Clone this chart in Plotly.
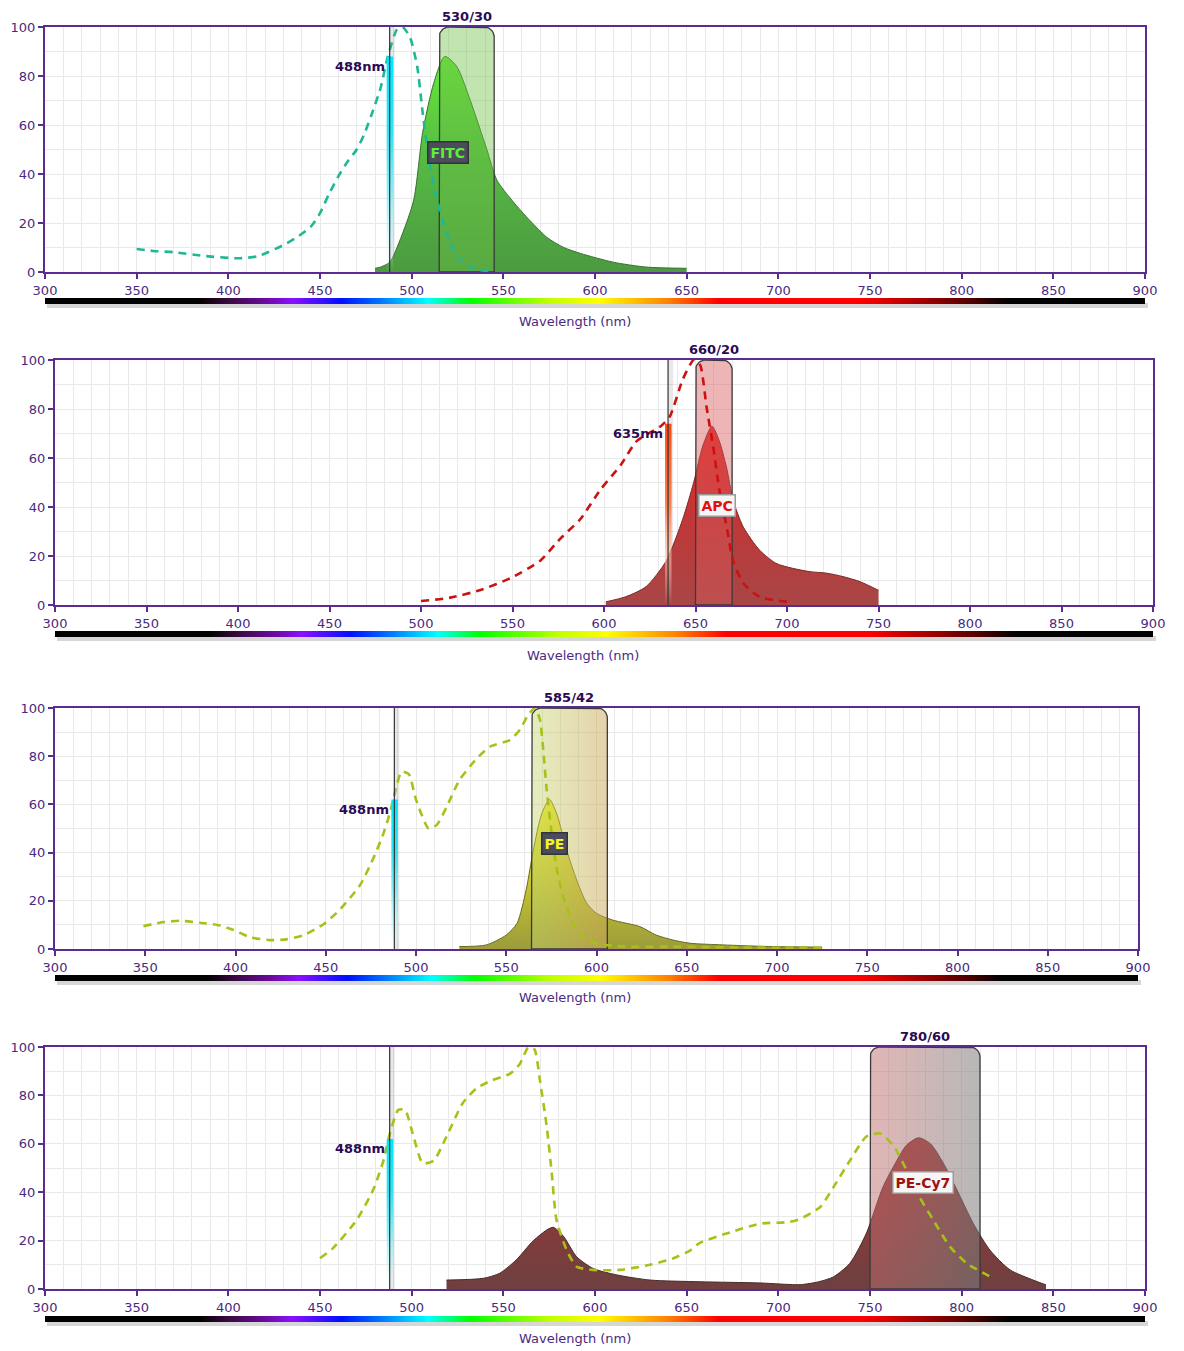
import numpy as np
import plotly.graph_objects as go

W, H = 1184, 1351

# ---------------- data ----------------
fitc_ex_nm = [350, 359, 370, 386, 405, 416, 430, 437, 445, 450, 455, 460, 465, 470, 474, 478, 483, 487, 492, 495, 499, 503, 506, 510, 514, 519, 525, 532, 543]
fitc_ex_val = [9.4, 8.6, 8.1, 6.6, 5.6, 6.4, 11, 14, 18.5, 24, 32, 39, 45, 50, 56, 64, 75, 88, 99, 100, 96, 84, 65, 43, 29, 16, 6, 2, 0]
fitc_em_nm = [480, 483, 488, 492, 501, 506, 512, 518, 524.5, 532, 541, 546.5, 555, 564.5, 574, 583, 592, 610, 628, 650]
fitc_em_val = [1.5, 2, 4, 10, 29, 57, 77, 88, 84, 70, 50, 37.5, 29, 21, 14, 10, 7.6, 4, 2, 1.5]

apc_ex_nm = [500, 516, 532, 549, 565, 576, 587, 598, 609, 618, 631, 636, 643, 649, 652.5, 656, 660, 663, 667, 670.5, 676, 685, 700]
apc_ex_val = [1.6, 3, 6, 11, 18, 27, 35, 47, 57, 67, 73, 77, 92, 100, 98, 81, 63, 47, 32, 18, 9, 3.3, 1.3]
apc_em_nm = [601, 612, 623, 634, 643, 649, 654, 659, 663, 667, 670.5, 676, 685, 694, 703, 712.6, 721.7, 730.6, 740, 750]
apc_em_val = [1.3, 3.4, 7.5, 18, 35, 50, 65, 73, 67, 56, 43, 32, 22.4, 17, 15, 13.6, 13, 11.6, 9.5, 6]

pe_ex_nm = [349, 358, 369, 380, 390, 399, 408, 419, 428, 438, 449, 458, 469, 476, 482, 486, 489, 492, 496, 500, 507, 511.5, 517, 524, 533.6, 541, 552, 557.6, 562, 566, 568.7, 570.5, 572.4, 575, 578, 581.6, 587, 592.7, 600, 615, 642, 680, 725]
pe_ex_val = [9.5, 10.9, 11.7, 10.9, 10, 7.9, 4.9, 3.7, 4, 5.8, 10.4, 16.5, 26.5, 37, 48, 57.7, 67, 73.6, 72.6, 62, 50, 51.5, 59, 70, 79, 84, 86.7, 91, 97, 100, 95, 82.6, 66, 49, 33, 21.7, 10.7, 5, 2.3, 1, 1, 0.6, 0.5]
pe_em_nm = [524, 539, 550, 556, 561, 565, 569.6, 574, 578, 583.5, 589, 594.6, 600, 609, 624, 633, 642.5, 651.8, 670, 698, 725]
pe_em_val = [1, 1.7, 5.8, 10.7, 24.5, 41, 56, 62, 56, 41, 28.6, 19, 14.8, 12, 9.3, 5.8, 3.7, 2.4, 1.7, 1, 0.8]

pecy7_ex_nm = [450, 457, 470, 479, 484.6, 488, 492.7, 496.4, 501, 506, 512, 519, 528, 535.5, 543, 553.7, 559, 563.7, 567, 570, 573.7, 576.4, 579, 584.6, 590, 599, 613.7, 630, 642.8, 652, 657, 674, 690, 706, 712, 723, 730, 739, 748, 755.5, 763, 770, 777, 784.5, 793.6, 802.8, 815.5]
pecy7_ex_val = [12.7, 16.8, 28.5, 41, 53, 64, 74, 74, 63, 52, 53, 63, 77, 83, 86, 89, 93, 100, 99, 86, 67, 48, 28.5, 16, 9.2, 7.9, 7.9, 10, 12.7, 16, 19, 23.5, 27, 27.7, 29, 34, 42, 53, 63, 64.3, 59, 49, 38, 28.5, 17.5, 10.6, 5.1]
pecy7_em_nm = [519, 539, 548, 557, 566.4, 573.7, 577.3, 583, 590, 599, 612, 630, 657, 690, 712, 722, 730, 739, 748, 757, 764.6, 770, 776.5, 783, 790, 797.4, 806.4, 815.5, 826.4, 839, 846]
pecy7_em_val = [3.7, 4.4, 6.5, 12, 20, 24.4, 25.5, 21.6, 13.3, 8.5, 5.8, 3.7, 3, 2.5, 1.8, 3, 5, 10.6, 23, 42, 53, 59.5, 62.5, 60, 52, 41, 27, 16, 7.9, 3.7, 1.7]

dye_names = ["FITC", "APC", "PE", "PE-Cy7"]
filter_center = [530, 660, 585, 780]
filter_width = [30, 20, 42, 60]
laser_nm = [488, 635, 488, 488]
laser_height = [88, 74, 62, 62]

x_ticks_major = list(range(300, 901, 50))
y_ticks_major = list(range(0, 101, 20))

# ---------------- styles / layout geometry ----------------
PURPLE = "#5b2c8f"
TXT = "#4a2a80"
LBL = "#2a0a55"
FONT = "DejaVu Sans, Verdana, sans-serif"
OFF = 8  # page body margin compensation (px)

# panel pixel boxes in the screenshot: (x0, x1, ytop, ybottom)
panels = [(45, 1145, 27, 272), (55, 1153, 360, 605), (55, 1138, 708, 949), (45, 1145, 1047, 1289)]
bars = [(298, 304), (631, 637), (975, 981), (1316, 1322)]
titles = [(575, 322), (583, 655), (575, 998), (575, 1338)]

CYAN_BAR = [[0, "rgba(220,250,252,0.0)"], [0.15, "rgba(190,245,250,0.5)"], [0.4, "rgba(120,235,245,0.9)"],
            [0.65, "#2fe3f3"], [1, "#00e6ff"]]
RED_BAR = [[0, "rgba(255,255,255,0.0)"], [0.2, "rgba(255,200,180,0.5)"], [0.55, "#ff8050"], [1, "#ff4a10"]]

styles = [
    dict(ex=(fitc_ex_nm, fitc_ex_val), em=(fitc_em_nm, fitc_em_val), excol="#1fb894",
         emgrad=[[0, "#4c9a40"], [0.5, "#55b943"], [1, "#66e83a"]], emline="#3d6e35",
         box=dict(fillcolor="rgba(110,190,70,0.42)"), laser=CYAN_BAR,
         lab=dict(pos=(520, 48.6), bg="#4d4d5a", border="#33333d", col="#5cf03a")),
    dict(ex=(apc_ex_nm, apc_ex_val), em=(apc_em_nm, apc_em_val), excol="#cc1111",
         emgrad=[[0, "#a84646"], [0.5, "#c23636"], [1, "#ea2828"]], emline="#7a2a2a",
         box=dict(fillcolor="rgba(215,90,90,0.45)"), laser=RED_BAR,
         lab=dict(pos=(661.6, 40.8), bg="#f6f6f6", border="#9a9a9a", col="#e01010")),
    dict(ex=(pe_ex_nm, pe_ex_val), em=(pe_em_nm, pe_em_val), excol="#a8c018",
         emgrad=[[0, "#9c9c3c"], [0.5, "#c9c930"], [1, "#f2f226"]], emline="#6a6a20",
         box=dict(grad=[[0, "rgba(195,215,110,0.45)"], [1, "rgba(205,165,85,0.5)"]]), laser=CYAN_BAR,
         lab=dict(pos=(577, 43.6), bg="#4d4d5a", border="#33333d", col="#f4f422")),
    dict(ex=(pecy7_ex_nm, pecy7_ex_val), em=(pecy7_em_nm, pecy7_em_val), excol="#a8c018",
         emgrad=[[0, "#6e4040"], [0.5, "#8a3a3a"], [1, "#a83030"]], emline="#4a2a2a",
         box=dict(grad=[[0, "rgba(195,110,110,0.5)"], [1, "rgba(125,125,125,0.55)"]]), laser=CYAN_BAR,
         lab=dict(pos=(779, 44), bg="#f6f6f6", border="#9a9a9a", col="#a01010")),
]

# spectrum colour stops (wavelength, colour)
spec_stops = [(300, "#000000"), (384, "#000000"), (400, "#3a0a40"), (420, "#6a0aa0"), (435, "#8a10ff"),
              (462, "#0010ff"), (485, "#0080ff"), (509, "#00ffff"), (532, "#00ff00"), (575, "#c0ff00"),
              (602, "#ffff00"), (640, "#ff8000"), (667, "#ff0000"), (745, "#ff0000"), (785, "#900000"),
              (805, "#500000"), (825, "#000000"), (900, "#000000")]
spec_scale = [[(w - 300) / 600, c] for w, c in spec_stops]
spec_wl = np.arange(300, 901, 1)


def px(v):
    return (v - OFF) / W


def py(v):
    return 1 - (v - OFF) / H


def xd(a, b):
    return [px(a), px(b)]


def yd(top, bottom):
    return [py(bottom), py(top)]


def rounded_box(lo, hi, top, rx, ry, n=10):
    xs, ys = [lo, lo], [0, top - ry]
    for t in np.linspace(np.pi, np.pi / 2, n):
        xs.append(lo + rx + rx * np.cos(t)); ys.append(top - ry + ry * np.sin(t))
    for t in np.linspace(np.pi / 2, 0, n):
        xs.append(hi - rx + rx * np.cos(t)); ys.append(top - ry + ry * np.sin(t))
    xs += [hi, lo]; ys += [0, 0]
    return xs, ys


fig = go.Figure()
layout = dict(width=W, height=H, margin=dict(l=0, r=0, t=0, b=0, pad=0, autoexpand=False), autosize=False,
              paper_bgcolor="white", plot_bgcolor="white", showlegend=False,
              font=dict(family=FONT, color=TXT))
annotations = []
shapes = []

for i in range(4):
    k = i + 1
    xa, ya = f"x{k}" if k > 1 else "x", f"y{k}" if k > 1 else "y"
    xk, yk = f"xaxis{k}" if k > 1 else "xaxis", f"yaxis{k}" if k > 1 else "yaxis"
    x0, x1, yt, yb = panels[i]
    st = styles[i]
    pxnm = (x1 - x0) / 600.0
    pxv = (yb - yt) / 100.0

    layout[xk] = dict(domain=xd(x0, x1), anchor=ya, range=[300, 900], tickvals=x_ticks_major,
                      ticks="outside", ticklen=5, tickwidth=1.5, tickcolor=PURPLE, automargin=False,
                      showline=True, linecolor=PURPLE, linewidth=2, mirror=True,
                      showgrid=True, gridcolor="#e9e9e9", gridwidth=1, zeroline=False,
                      minor=dict(dtick=10, tick0=300, showgrid=True, gridcolor="#e9e9e9", ticks=""),
                      tickfont=dict(size=13, color=TXT, family=FONT), fixedrange=True)
    layout[yk] = dict(domain=yd(yt, yb), anchor=xa, range=[0, 100], tickvals=y_ticks_major,
                      ticks="outside", ticklen=5, tickwidth=1.5, tickcolor=PURPLE, automargin=False,
                      showline=True, linecolor=PURPLE, linewidth=2, mirror=True,
                      showgrid=True, gridcolor="#e9e9e9", zeroline=False,
                      minor=dict(dtick=10, tick0=0, showgrid=True, gridcolor="#e9e9e9", ticks=""),
                      tickfont=dict(size=13, color=TXT, family=FONT), fixedrange=True)
    # overlay axis for the unlabeled ticks at 25s
    ko = k + 8
    layout[f"xaxis{ko}"] = dict(overlaying=xa, anchor=ya, side="bottom", range=[300, 900],
                                tickvals=[v + 25 for v in x_ticks_major[:-1]], ticks="outside",
                                ticklen=5, tickwidth=1.5, tickcolor=PURPLE, showticklabels=False,
                                showgrid=False, showline=False, zeroline=False, fixedrange=True, automargin=False)

    # spectrum bar axes
    kb = k + 4
    b0, b1 = bars[i]
    layout[f"xaxis{kb}"] = dict(domain=xd(x0, x1), anchor=f"y{kb}", range=[300, 900], visible=False, fixedrange=True)
    layout[f"yaxis{kb}"] = dict(domain=yd(b0, b1), anchor=f"x{kb}", range=[-0.5, 0.5], visible=False, fixedrange=True)
    shapes.append(dict(type="rect", xref="paper", yref="paper", x0=px(x0 + 2), x1=px(x1 + 3),
                       y0=py(b1 + 4), y1=py(b1 - 1), fillcolor="rgba(0,0,0,0.16)",
                       line=dict(width=0), layer="below"))
    fig.add_trace(go.Heatmap(x=spec_wl, y=[0], z=[spec_wl], colorscale=spec_scale, zmin=300, zmax=900,
                             showscale=False, hoverinfo="skip", xaxis=f"x{kb}", yaxis=f"y{kb}"))

    # laser shadow (behind everything)
    L = laser_nm[i]
    h = laser_height[i]
    sw = 5 / pxnm
    fig.add_trace(go.Scatter(x=[L, L + sw, L + sw, L, L], y=[0, 0, 100, 100, 0], fill="toself", mode="none",
                             fillcolor="rgba(0,0,0,0.09)", hoverinfo="skip", xaxis=xa, yaxis=ya))

    # emission (filled)
    em_nm, em_val = st["em"]
    fig.add_trace(go.Scatter(x=em_nm, y=em_val, mode="lines", line=dict(color=st["emline"], width=1, shape="spline", smoothing=0.7),
                             fill="tozeroy", fillgradient=dict(type="vertical", colorscale=st["emgrad"], start=0, stop=max(em_val)),
                             hoverinfo="skip", xaxis=xa, yaxis=ya))

    # filter box
    lo = filter_center[i] - filter_width[i] / 2
    hi = filter_center[i] + filter_width[i] / 2
    bx, by = rounded_box(lo, hi, 100, 10 / pxnm, 10 / pxv)
    boxkw = dict(fill="toself", mode="lines", line=dict(color="#3a3a3a", width=1.3), hoverinfo="skip", xaxis=xa, yaxis=ya)
    if "grad" in st["box"]:
        boxkw["fillgradient"] = dict(type="horizontal", colorscale=st["box"]["grad"], start=lo, stop=hi)
    else:
        boxkw["fillcolor"] = st["box"]["fillcolor"]
    fig.add_trace(go.Scatter(x=bx, y=by, **boxkw))

    # excitation (dashed)
    ex_nm, ex_val = st["ex"]
    fig.add_trace(go.Scatter(x=ex_nm, y=ex_val, mode="lines",
                             line=dict(color=st["excol"], width=2.6, dash="8px,6px", shape="spline", smoothing=0.6),
                             hoverinfo="skip", xaxis=xa, yaxis=ya))

    # laser bar and line
    bl, br = L - 3 / pxnm, L + 3.5 / pxnm
    fig.add_trace(go.Scatter(x=[bl, br, br, bl, bl], y=[0, 0, h, h, 0], fill="toself", mode="none",
                             fillgradient=dict(type="vertical", colorscale=st["laser"], start=0, stop=h),
                             hoverinfo="skip", xaxis=xa, yaxis=ya))
    fig.add_trace(go.Scatter(x=[L, L], y=[0, 100], mode="lines", line=dict(color="#333333", width=1.2),
                             hoverinfo="skip", xaxis=xa, yaxis=ya))

    # labels
    annotations.append(dict(x=filter_center[i], y=100, xref=xa, yref=ya, xanchor="center", yanchor="bottom", yshift=1,
                            text=f"<b>{filter_center[i]}/{filter_width[i]}</b>", showarrow=False,
                            font=dict(size=13, color=LBL, family=FONT)))
    annotations.append(dict(x=bl, y=h - 4, xref=xa, yref=ya, xanchor="right", yanchor="middle",
                            text=f"<b>{L}nm</b>", showarrow=False, font=dict(size=13, color=LBL, family=FONT)))
    lab = st["lab"]
    annotations.append(dict(x=lab["pos"][0], y=lab["pos"][1], xref=xa, yref=ya, xanchor="center", yanchor="middle",
                            text=f"<b>{dye_names[i]}</b>",
                            showarrow=False, bgcolor=lab["bg"], bordercolor=lab["border"], borderwidth=1.5,
                            borderpad=2, font=dict(size=14, color=lab["col"], family=FONT)))
    tx, ty = titles[i]
    annotations.append(dict(x=px(tx), y=py(ty), xref="paper", yref="paper", xanchor="center", yanchor="middle",
                            text="Wavelength (nm)", showarrow=False, font=dict(size=13, color=TXT, family=FONT)))

layout["annotations"] = annotations
layout["shapes"] = shapes
fig.update_layout(**layout)
fig.write_html("out.html")
